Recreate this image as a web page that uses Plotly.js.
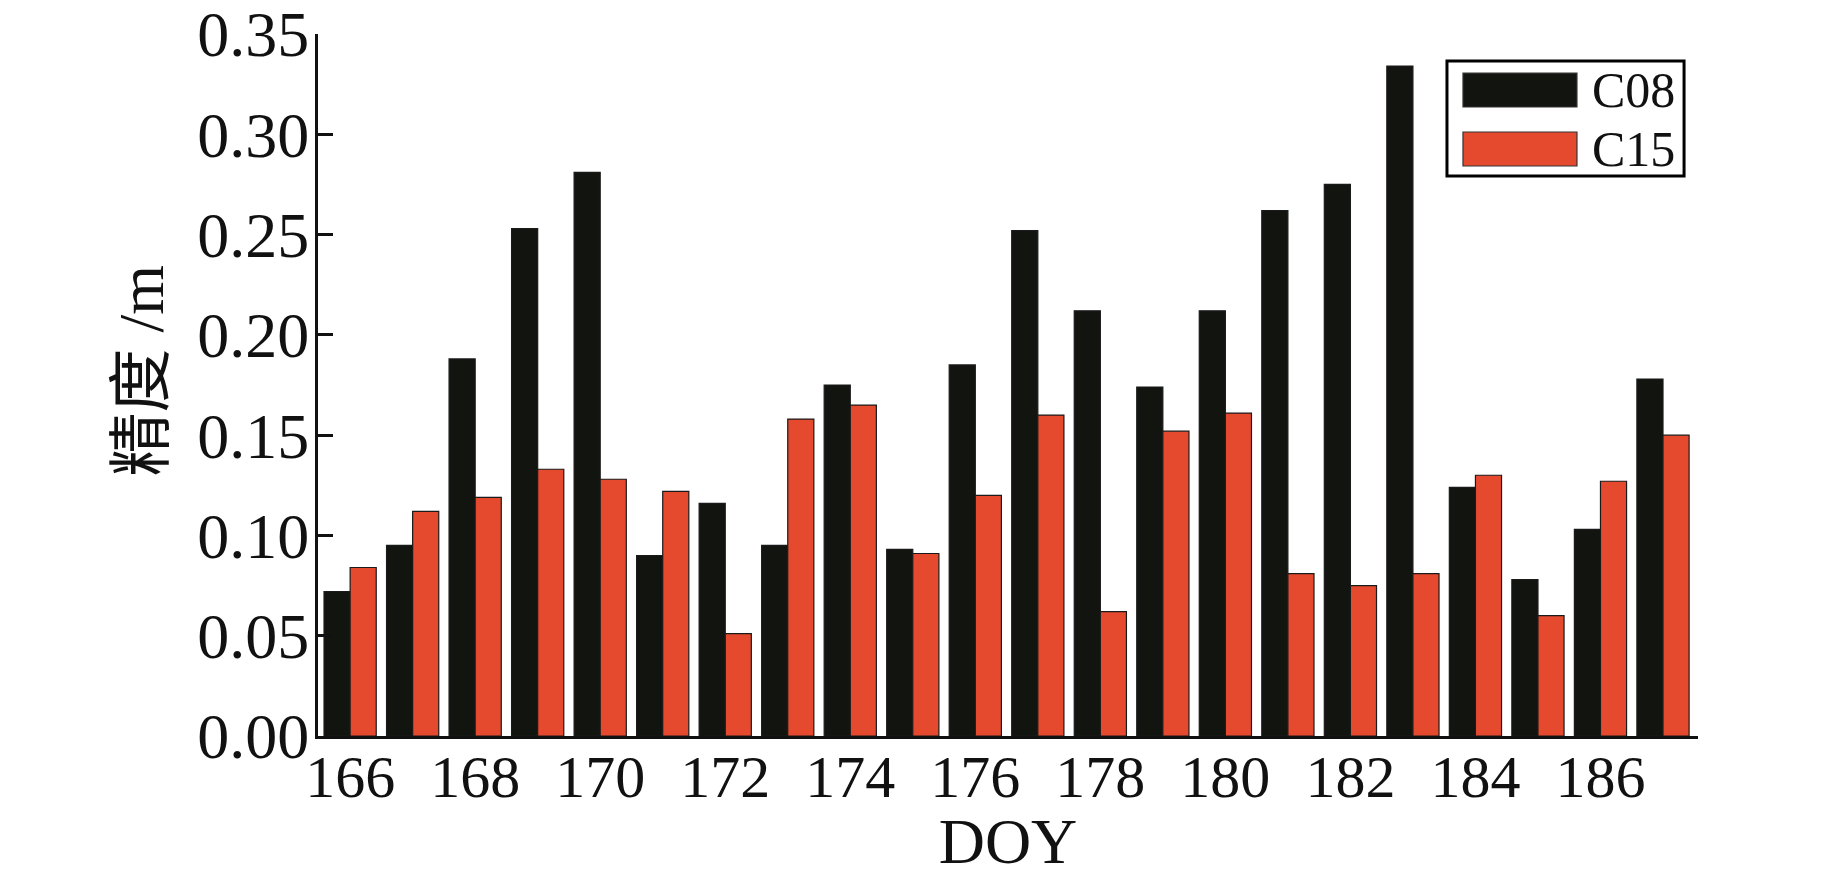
<!DOCTYPE html>
<html>
<head>
<meta charset="utf-8">
<script src="https://cdn.plot.ly/plotly-3.0.1.min.js"></script>
<style>
  html, body { margin: 0; padding: 0; background: #fff; }
  #chart { width: 1843px; height: 877px; }
</style>
</head>
<body>
<div id="chart"></div>
<script>
// DOY and accuracy (m) per satellite
var doy = [166, 167, 168, 169, 170, 171, 172, 173, 174, 175, 176,
           177, 178, 179, 180, 181, 182, 183, 184, 185, 186, 187];
var c08 = [0.072, 0.095, 0.188, 0.253, 0.281, 0.090, 0.116, 0.095, 0.175, 0.093, 0.185,
           0.252, 0.212, 0.174, 0.212, 0.262, 0.275, 0.334, 0.124, 0.078, 0.103, 0.178];
var c15 = [0.084, 0.112, 0.119, 0.133, 0.128, 0.122, 0.051, 0.158, 0.165, 0.091, 0.120,
           0.160, 0.062, 0.152, 0.161, 0.081, 0.075, 0.081, 0.130, 0.060, 0.127, 0.150];
var seriesNames = ["C08", "C15"];
var xTicks = [166, 168, 170, 172, 174, 176, 178, 180, 182, 184, 186];
var yTicks = [0, 0.05, 0.10, 0.15, 0.20, 0.25, 0.30, 0.35];

var black = "#12140f";
var red = "#e64a2e";
var serif = "Liberation Serif, Times New Roman, Noto Sans CJK SC, serif";

var trace1 = {
    name: seriesNames[0],
    x: doy,
    y: c08,
    type: 'bar',
    marker: {color: black, line: {color: "#1a1a1a", width: 1.2}}
};

var trace2 = {
    name: seriesNames[1],
    x: doy,
    y: c15,
    type: 'bar',
    marker: {color: red, line: {color: "#1a1a1a", width: 1.2}}
};

// legend drawn by hand so the swatches can be wide like the original
var shapes = [
    {type: 'rect', xref: 'paper', yref: 'paper', x0: 0.8181, x1: 0.9899, y0: 0.7977, y1: 0.9615,
     line: {color: "#000", width: 3}, fillcolor: "#fff", layer: 'above'},
    {type: 'rect', xref: 'paper', yref: 'paper', x0: 0.8297, x1: 0.9123, y0: 0.896, y1: 0.9444,
     line: {color: "#333", width: 1.2}, fillcolor: black, layer: 'above'},
    {type: 'rect', xref: 'paper', yref: 'paper', x0: 0.8297, x1: 0.9123, y0: 0.812, y1: 0.8604,
     line: {color: "#333", width: 1.2}, fillcolor: red, layer: 'above'}
];
var annotations = [
    {xref: 'paper', yref: 'paper', x: 0.9217, y: 0.920, xanchor: 'left', yanchor: 'middle',
     text: seriesNames[0], showarrow: false, font: {family: serif, size: 50, color: "#111"}},
    {xref: 'paper', yref: 'paper', x: 0.9217, y: 0.836, xanchor: 'left', yanchor: 'middle',
     text: seriesNames[1], showarrow: false, font: {family: serif, size: 50, color: "#111"}},
    // y title, placed by hand (sits a bit above the plot centre in the original)
    {xref: 'paper', yref: 'paper', x: -0.128, y: 0.521, xanchor: 'center', yanchor: 'middle',
     text: "精度 /m", textangle: -90, showarrow: false,
     font: {family: serif, size: 64, color: "#111"}}
];

var layout = {
    width: 1843,
    height: 877,
    margin: {l: 318, r: 145, t: 34, b: 141},
    barmode: 'group',
    bargap: 0.165,
    bargroupgap: 0,
    showlegend: false,
    font: {family: serif, color: "#111"},
    xaxis: {
        range: [165.486, 187.56],
        tickvals: xTicks,
        ticktext: xTicks.map(String),
        ticks: '',
        ticklabelstandoff: -14,
        showgrid: false,
        zeroline: false,
        showline: true, linecolor: "#111", linewidth: 3,
        tickfont: {family: serif, size: 60, color: "#111"},
        title: {text: "DOY", font: {family: serif, size: 64, color: "#111"}, standoff: 22}
    },
    yaxis: {
        range: [0, 0.35],
        tickvals: yTicks,
        ticktext: yTicks.map(function(v){ return v.toFixed(2); }),
        ticks: 'inside', ticklen: 15, tickwidth: 3, tickcolor: "#111",
        ticklabelstandoff: -7,
        ticklabeloverflow: 'allow',
        showgrid: false,
        zeroline: false,
        showline: true, linecolor: "#111", linewidth: 3,
        tickfont: {family: serif, size: 64, color: "#111"}
    },
    shapes: shapes,
    annotations: annotations,
    plot_bgcolor: '#fff',
    paper_bgcolor: '#fff'
};

Plotly.newPlot('chart', [trace1, trace2], layout, {displayModeBar: false});
</script>
</body>
</html>
